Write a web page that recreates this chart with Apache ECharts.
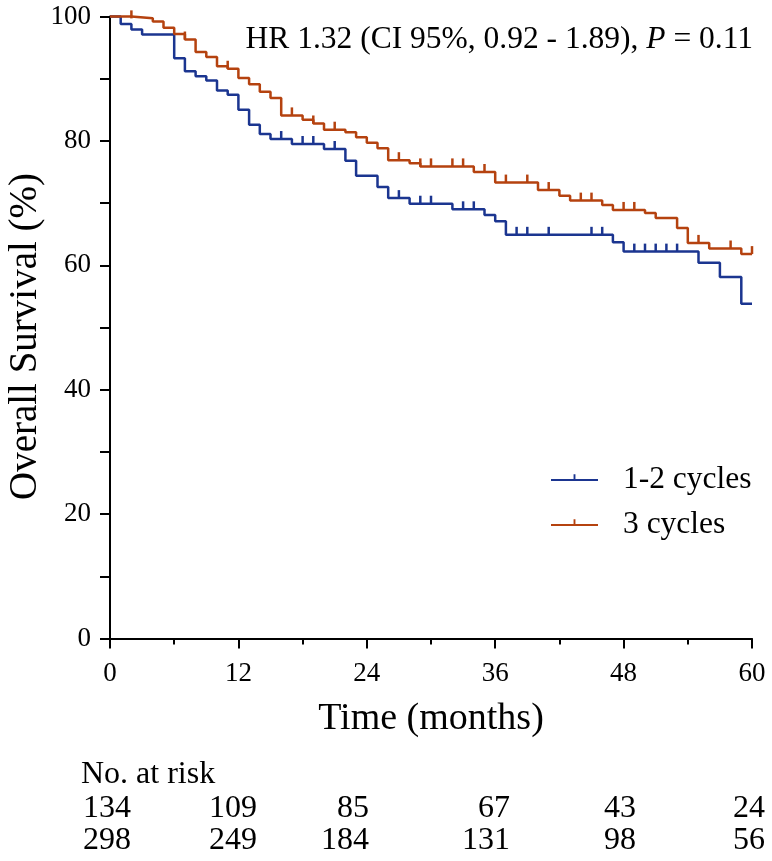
<!DOCTYPE html>
<html>
<head>
<meta charset="utf-8">
<script src="https://cdn.jsdelivr.net/npm/echarts@6/dist/echarts.min.js"></script>
<style>
  html, body { margin: 0; padding: 0; background: #fff; }
  #main { width: 772px; height: 861px; }
</style>
</head>
<body>
<div id="main"></div>
<script>
// KM step points (month, survival %)
var cyc12Times = [0, 1, 2, 3, 6, 7, 8, 9, 10, 11, 12, 13, 14, 15, 17, 20, 22, 23, 25, 26, 28, 32, 35, 36, 37, 47, 48, 55, 57, 59, 60];
var cyc12Surv  = [100, 98.8, 97.9, 97.1, 93.3, 91.2, 90.4, 89.7, 88.1, 87.4, 85.0, 82.6, 81.1, 80.3, 79.5, 78.7, 76.8, 74.4, 72.6, 70.8, 69.9, 69.0, 68.1, 67.1, 64.9, 63.7, 62.2, 60.4, 58.1, 53.8, 53.8];
var cyc12Censor = [16, 18, 19, 21, 27, 29, 30, 33, 34, 38, 39, 41, 45, 46, 49, 50, 51, 52, 53];

var cyc3Times = [0, 2, 4, 5, 6, 7, 8, 9, 10, 11, 12, 13, 14, 15, 16, 18, 19, 20, 22, 23, 24, 25, 26, 28, 29, 34, 36, 40, 42, 43, 46, 47, 50, 51, 53, 54, 56, 59, 60];
var cyc3Surv  = [100, 99.7, 99.2, 98.2, 97.2, 96.3, 94.3, 93.5, 92.0, 91.6, 90.1, 89.1, 87.9, 86.9, 84.1, 83.4, 82.8, 81.8, 81.4, 80.6, 79.7, 78.8, 76.9, 76.4, 75.9, 75.0, 73.3, 72.1, 71.2, 70.4, 69.7, 68.9, 68.4, 67.6, 66.0, 63.6, 62.7, 61.8, 61.8];
var cyc3Censor = [2, 7, 11, 17, 19, 21, 27, 29, 30, 32, 33, 35, 37, 39, 41, 44, 45, 48, 49, 55, 58, 60];

var riskTimes = [0, 12, 24, 36, 48, 60];
var risk12 = [134, 109, 85, 67, 43, 24];
var risk3  = [298, 249, 184, 131, 98, 56];

var seriesNames = ['1-2 cycles', '3 cycles'];
var blue = '#1b3590';
var orange = '#b5420f';
var serif = "'Liberation Serif', 'Times New Roman', serif";

function pairs(ts, vs) {
    return ts.map(function (t, i) { return [t, vs[i]]; });
}
function survAt(ts, vs, t) {
    var v = vs[0];
    for (var i = 0; i < ts.length; i++) {
        if (ts[i] <= t) v = vs[i];
    }
    return v;
}
function censorPts(cs, ts, vs) {
    return cs.map(function (t) { return [t, survAt(ts, vs, t)]; });
}

var chartDom = document.getElementById('main');
var myChart = echarts.init(chartDom);

// risk table columns: right edge in px
var riskRight = [131, 257, 369, 510, 636, 765];
var riskGraphics = [{
    type: 'text', x: 81, y: 775,
    style: { text: 'No. at risk', font: '32px ' + serif, fill: '#000', verticalAlign: 'middle' }
}];
[risk12, risk3].forEach(function (row, r) {
    row.forEach(function (n, i) {
        riskGraphics.push({
            type: 'text',
            x: riskRight[i], y: 809 + r * 32,
            style: {
                text: String(n), font: '32px ' + serif, fill: '#000',
                align: 'right', verticalAlign: 'middle'
            }
        });
    });
});

var tickIcon = 'path://M0,10 L100,10 L100,14 L0,14 Z M48,0 L52,0 L52,10 L48,10 Z M0,24 L0.1,24 Z';

var option = {
    animation: false,
    title: {
        right: 14,
        top: 19,
        text: '{a|HR 1.32 (CI 95%, 0.92 - 1.89), }{i|P}{a| = 0.11}',
        textStyle: {
            rich: {
                a: { fontFamily: serif, fontSize: 31.5, fontWeight: 'normal', color: '#000' },
                i: { fontFamily: serif, fontSize: 31.5, fontWeight: 'normal', fontStyle: 'italic', color: '#000' }
            }
        }
    },
    legend: {
        orient: 'vertical',
        left: 546,
        top: 459,
        itemWidth: 47,
        itemHeight: 20,
        itemGap: 13,
        icon: tickIcon,
        data: seriesNames,
        textStyle: { fontFamily: serif, fontSize: 31.5, color: '#000', padding: [0, 0, 0, 20] }
    },
    grid: { left: 110, right: 20, top: 16.5, bottom: 222.5, outerBoundsMode: 'none' },
    xAxis: {
        type: 'value',
        min: 0, max: 60, interval: 12,
        name: 'Time (months)',
        nameLocation: 'middle',
        nameGap: 62,
        nameTextStyle: { fontFamily: serif, fontSize: 38, color: '#000' },
        axisLine: { lineStyle: { color: '#000', width: 2 } },
        axisTick: { length: 10, lineStyle: { color: '#000', width: 2 } },
        minorTick: { show: true, splitNumber: 2, length: 6, lineStyle: { color: '#000', width: 2 } },
        axisLabel: { margin: 22, fontFamily: serif, fontSize: 27, color: '#000' },
        splitLine: { show: false }
    },
    yAxis: {
        type: 'value',
        min: 0, max: 100, interval: 10,
        name: 'Overall Survival (%)',
        nameLocation: 'middle',
        nameMoveOverlap: false,
        nameGap: 65,
        nameTextStyle: { fontFamily: serif, fontSize: 39, color: '#000', padding: [0, 18, 0, 0] },
        axisLine: { show: true, lineStyle: { color: '#000', width: 2 } },
        axisTick: { show: true, length: 10, lineStyle: { color: '#000', width: 2 } },
        axisLabel: {
            margin: 19, fontFamily: serif, fontSize: 27, color: '#000',
            formatter: function (v) { return v % 20 === 0 ? v : ''; }
        },
        splitLine: { show: false }
    },
    series: [
        {
            name: seriesNames[0], type: 'line', step: 'end', showSymbol: false, clip: false,
            data: pairs(cyc12Times, cyc12Surv),
            itemStyle: { color: blue },
            lineStyle: { color: blue, width: 2.5 }
        },
        {
            name: seriesNames[1], type: 'line', step: 'end', showSymbol: false, clip: false,
            data: pairs(cyc3Times, cyc3Surv),
            itemStyle: { color: orange },
            lineStyle: { color: orange, width: 2.5 }
        },
        {
            name: seriesNames[0], type: 'scatter', clip: false,
            symbol: 'rect', symbolSize: [2.5, 8], symbolOffset: [0, -4],
            itemStyle: { color: blue, opacity: 1 },
            data: censorPts(cyc12Censor, cyc12Times, cyc12Surv)
        },
        {
            name: seriesNames[1], type: 'scatter', clip: false,
            symbol: 'rect', symbolSize: [2.5, 8], symbolOffset: [0, -4],
            itemStyle: { color: orange, opacity: 1 },
            data: censorPts(cyc3Censor, cyc3Times, cyc3Surv)
        }
    ],
    graphic: riskGraphics
};

option && myChart.setOption(option);
</script>
</body>
</html>
